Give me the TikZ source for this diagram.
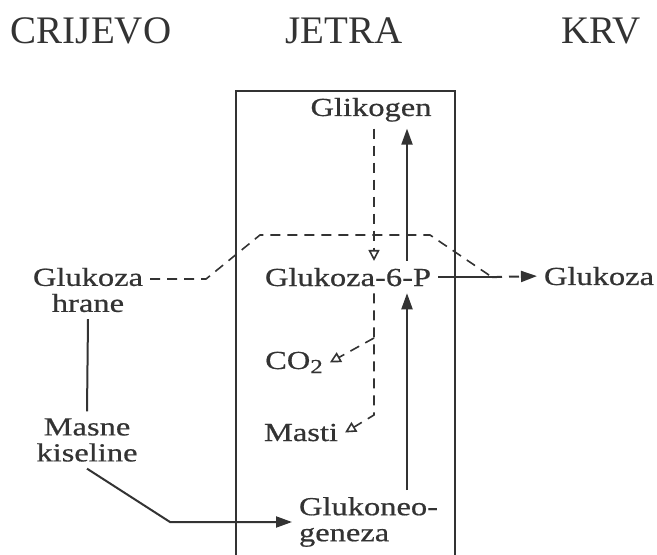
\documentclass[tikz,border=0pt]{standalone}
\usepackage{fontspec}
\setmainfont{Liberation Serif}
\newfontfamily\lblfont[FakeStretch=1.25,FakeBold=0.6]{Liberation Serif}
\usetikzlibrary{arrows.meta,calc}
\begin{document}
\begin{tikzpicture}[x=0.5pt, y=-0.5pt, line width=1pt, color=black!80,
  title/.style={font=\fontsize{19.5}{20}\selectfont, anchor=base, inner sep=0pt},
  lbl/.style={font=\lblfont\fontsize{13}{13}\selectfont, inner sep=3pt},
  flow/.style={line width=1pt, -{Triangle[length=8pt,width=5.5pt]}},
  dflow/.style={line width=0.8pt, dash pattern=on 5pt off 3.5pt},
  opentip/.style={-{Triangle[open,length=5.5pt,width=5.5pt]}}]
\useasboundingbox (0,0) rectangle (657,555);
% titles
\foreach \x/\t/\n in {91/CRIJEVO/crijevo, 344/JETRA/jetra, 601/KRV/krv}
  \node[title] (\n) at (\x,44) {\t};
% liver
\draw[line width=1.4pt] (236,555) -- (236,91) -- (455,91) -- (455,555);
\node[lbl, anchor=base] (glikogen) at (371,116) {Glikogen};
\node[lbl, anchor=base] (g6p) at (348,286) {Glukoza-6-P};
\node[lbl, anchor=base] (glukoza) at (599,285) {Glukoza};
\node[lbl, anchor=base] (co2) at (294,369) {CO\raisebox{-0.35ex}{\fontsize{10}{10}\selectfont 2}};
\node[lbl, anchor=base] (masti) at (301,441) {Masti};
\node[lbl, align=center] (hrane) at (88,290) {Glukoza\\hrane};
\node[lbl, align=center] (masne) at (87,440) {Masne\\kiseline};
\node[lbl, align=left, anchor=west] (glukoneo) at (292,522) {Glukoneo-\\geneza};
\coordinate (dn) at (374,0);
\coordinate (up) at (407,0);
\coordinate (merge) at (492,0);
\coordinate (co2br) at (374,338);
\coordinate (mbend) at (374,415);
\coordinate (kbend) at (170,0);
% glikogen
\draw[dflow, opentip] (glikogen.south -| dn) -- (g6p.north -| dn);
\draw[flow] (g6p.north -| up) -- (glikogen.south -| up);
\draw[flow] (glukoneo.north -| up) -- (g6p.south -| up);
% CO2 and masti
\draw[dflow, opentip] (g6p.south -| dn) -- (mbend) -- (masti.east);
\draw[dflow, opentip] (co2br) -- (co2.east);
% glukoza from food and to blood
\draw[dflow] ($(hrane.east)+(0,-11)$) -- ++(56,0) -- (260,235) -- (430,235)
  -- (merge |- g6p.east);
\draw (g6p.east) -- (merge |- g6p.east);
\draw[dflow, flow] (merge |- g6p.east) -- (glukoza.west);
% masne kiseline
\draw (hrane.south) -- (masne.north);
\draw[flow] (masne.south) -- (kbend |- glukoneo.west) -- (glukoneo.west);
\end{tikzpicture}
\end{document}
